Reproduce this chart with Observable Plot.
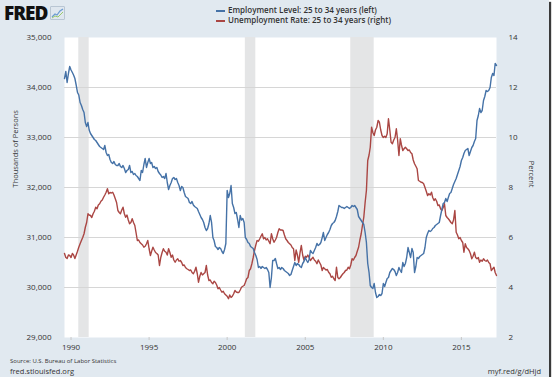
<!DOCTYPE html>
<html><head><meta charset="utf-8">
<script src="https://cdn.jsdelivr.net/npm/d3@7"></script>
<script src="https://cdn.jsdelivr.net/npm/@observablehq/plot@0.6"></script>
<style>
html,body{margin:0;padding:0;background:#fff;}
#wrap{position:relative;width:549px;height:377px;background:#e1e9f0;box-shadow:2px 2px 1px #3a3a3a;overflow:hidden;font-family:"Open Sans",sans-serif;color:#333;}
#chart{position:absolute;left:0;top:0;}
#logo{position:absolute;left:4px;top:0px;font-family:"Open Sans",sans-serif;font-weight:800;font-size:19px;letter-spacing:-1px;color:#111;}
#icon{position:absolute;left:50px;top:6px;width:13px;height:12px;background:#dfe7ef;border:1px solid #b9c6d3;border-radius:1px;}
#legend{position:absolute;left:216px;top:5px;font-size:8px;font-weight:600;color:#333;line-height:10px;}
#legend .sw{display:inline-block;width:9px;height:2px;margin-right:3px;vertical-align:middle;}
#source{position:absolute;left:10px;top:357px;font-size:6px;color:#333;}
#site{position:absolute;left:10px;top:366px;font-size:7.5px;color:#333;}
#short{position:absolute;right:8px;top:366px;font-size:7.5px;color:#333;}
</style></head>
<body>
<div id="wrap">
  <div id="chart"></div>
  <div id="logo">FRED</div>
  <svg id="icon" viewBox="0 0 13 12"><polyline points="1,10 4,7 6,8 9,4 12,2" fill="none" stroke="#6b9bd1" stroke-width="1.2"/><polyline points="1,11 4,9 7,10 12,5" fill="none" stroke="#9ccb6b" stroke-width="1"/></svg>
  <div id="legend">
    <div><span class="sw" style="background:#4572a7"></span>Employment Level: 25 to 34 years (left)</div>
    <div><span class="sw" style="background:#aa4643"></span>Unemployment Rate: 25 to 34 years (right)</div>
  </div>
  <div id="source">Source: U.S. Bureau of Labor Statistics</div>
  <div id="site">fred.stlouisfed.org</div>
  <div id="short">myf.red/g/dHjd</div>
</div>
<script>
// Monthly, starting Aug 1989 (thousands of persons)
const employment = [
  34180,34320,34100,34280,34420,
  34350,34300,34250,34180,34050,33900,33850,33700,33640,33560,33500,33300,
  33220,33300,33150,33080,33040,33000,32960,32940,32900,32860,32820,32800,
  32780,32760,32840,32700,32640,32660,32560,32500,32480,32520,32460,32440,
  32440,32480,32420,32400,32440,32380,32300,32340,32360,32440,32300,32320,
  32260,32280,32240,32220,32180,32140,32340,32300,32460,32580,32400,32500,
  32580,32480,32500,32400,32420,32380,32400,32320,32280,32250,32200,32220,
  32180,32280,32100,31960,32040,32100,32180,32200,32160,32180,32100,32040,
  31940,32020,32000,31900,31820,31800,31780,31700,31680,31720,31650,31620,
  31600,31580,31520,31460,31400,31360,31300,31200,31140,31180,31280,31440,
  31300,31000,30940,30820,30800,30760,30800,30780,30720,30680,30760,30880,
  31940,31800,31880,32040,31680,31600,31480,31500,31360,31200,31440,31350,
  31380,31300,31000,30960,30900,30880,30820,30800,30780,30700,30640,30560,
  30400,30420,30380,30420,30400,30380,30400,30360,30300,30000,30200,30540,
  30540,30580,30480,30380,30400,30360,30400,30380,30340,30320,30300,30280,
  30240,30260,30340,30420,30500,30440,30480,30460,30420,30400,30480,30520,
  30600,30540,30500,30560,30740,30700,30680,30740,30800,30880,30840,30860,
  30900,31000,31100,30940,31000,31060,31100,31160,31240,31280,31300,31340,
  31420,31520,31640,31620,31600,31600,31580,31600,31620,31600,31580,31600,
  31640,31620,31640,31600,31560,31420,31380,31340,31300,31260,31100,30900,
  30480,30300,30040,30000,29980,30080,29900,29800,29820,29860,29840,29880,
  30080,30020,30100,30180,30200,30300,30340,30380,30360,30320,30240,30300,
  30400,30340,30300,30500,30420,30480,30600,30800,30700,30600,30780,30700,
  30300,30420,30600,30580,30620,30640,30660,30680,30800,31000,31080,31140,
  31120,31140,31180,31200,31240,31260,31280,31300,31440,31560,31680,31700,
  31780,31720,31800,31880,31900,31980,32060,32120,32180,32260,32340,32420,
  32540,32600,32680,32740,32760,32780,32640,32720,32800,32840,32920,32980,
  33340,33440,33580,33500,33540,33740,33820,33940,33920,33940,34000,34200,
  34280,34240,34480,34440
];
// Monthly, starting Aug 1989 (percent)
const unemployment = [
  5.36,5.2,5.16,5.3,5.28,
  5.2,5.36,5.3,5.16,5.3,5.45,5.61,5.75,5.88,6.0,6.15,6.41,
  6.6,6.95,6.9,6.88,6.8,6.95,7.05,7.21,7.15,7.3,7.35,7.45,
  7.5,7.61,7.7,7.81,7.95,7.75,7.8,7.78,7.81,7.7,7.55,7.4,
  7.08,7.0,6.95,7.1,7.21,6.95,6.81,6.9,6.7,6.55,6.6,6.75,
  6.6,6.48,6.2,5.88,5.9,5.8,5.75,5.7,5.61,5.65,5.75,5.88,
  5.55,5.28,5.45,5.61,5.5,5.4,5.36,5.3,4.88,5.2,5.4,5.55,
  5.45,5.41,5.3,5.55,5.4,5.21,5.3,5.1,5.01,5.1,5.15,5.05,
  5.08,5.0,4.88,4.9,4.8,4.75,4.72,4.68,4.7,4.6,4.55,4.65,
  4.81,4.55,4.21,4.45,4.6,4.5,4.55,4.6,4.88,4.5,4.28,4.3,
  4.2,4.15,4.25,4.2,4.1,3.95,4.0,3.9,3.81,3.85,3.75,3.7,
  3.65,3.55,3.7,3.6,3.65,3.75,3.88,3.82,3.8,3.8,3.9,4.01,
  4.05,4.08,4.2,4.35,4.4,4.68,4.75,4.95,5.2,5.48,5.7,5.88,
  5.85,5.95,6.05,6.15,5.95,6.0,5.9,5.95,5.85,5.75,6.15,5.95,
  5.81,5.9,6.0,6.2,6.35,6.3,6.3,6.28,6.1,5.95,5.88,5.8,
  5.75,5.7,5.6,5.55,5.08,5.5,5.3,5.01,5.4,5.68,5.3,5.1,
  5.25,5.21,5.3,5.2,5.08,5.15,5.21,5.1,5.05,4.95,5.1,5.0,
  4.9,4.68,4.8,4.75,4.7,4.72,4.61,4.55,4.41,4.45,4.35,4.28,
  4.81,4.4,4.35,4.4,4.48,4.55,4.6,4.68,4.7,4.81,4.75,4.9,
  5.15,5.1,5.2,5.28,5.45,5.61,5.9,6.15,6.5,6.81,7.4,7.88,
  9.08,9.3,9.61,10.41,10.2,10.08,10.3,10.41,10.68,10.61,10.3,10.08,
  10.0,10.05,10.0,10.15,10.75,10.3,9.81,9.75,9.9,10.0,10.35,9.9,
  9.28,9.95,9.7,9.48,9.55,9.61,9.55,9.48,9.5,9.4,9.35,9.1,
  8.95,8.85,8.75,8.28,8.25,8.21,8.2,8.15,8.0,7.85,7.68,7.75,
  7.7,7.81,7.6,7.48,7.55,7.45,7.28,7.3,7.15,7.08,7.2,7.35,
  6.88,6.8,6.75,6.68,6.6,6.55,6.7,7.08,6.21,6.1,5.95,6.0,
  5.88,5.8,5.41,5.75,5.6,5.55,5.48,5.35,5.15,5.25,5.41,5.2,
  5.15,5.2,5.01,5.1,5.05,5.15,5.08,5.05,5.1,5.0,4.95,4.68,
  4.75,4.81,4.6,4.48
];
const recessionStarts = ["1990-07-01","2001-03-01","2007-12-01"];
const recessionEnds   = ["1991-03-01","2001-11-01","2009-06-01"];
const leftTicks = [29000,30000,31000,32000,33000,34000,35000];
const rightTicks = [2,4,6,8,10,12,14];
const xTickYears = [1990,1995,2000,2005,2010,2015];

const start = new Date(Date.UTC(1989,7,1));
const dates = employment.map((_, i) => d3.utcMonth.offset(start, i));
const empData = employment.map((v, i) => ({date: dates[i], value: v}));
const unempData = unemployment.map((v, i) => ({date: dates[i], value: v}));
const recessions = recessionStarts.map((s, i) => ({start: new Date(s), end: new Date(recessionEnds[i])}));
// right axis (percent) is mapped onto the left axis range: 2 -> 29000, 14 -> 35000
const toLeft = p => 29000 + (p - 2) * 500;
const fromLeft = v => (v - 29000) / 500 + 2;

const chart = Plot.plot({
  width: 549, height: 377,
  marginLeft: 64, marginRight: 53, marginTop: 37, marginBottom: 40,
  style: {background: "transparent", fontFamily: "'Open Sans', sans-serif", fontSize: "8px", color: "#333", overflow: "visible"},
  x: {type: "utc", domain: [dates[0], dates[dates.length - 1]]},
  y: {domain: [29000, 35000]},
  marks: [
    Plot.frame({fill: "white", stroke: "none"}),
    Plot.rect(recessions, {x1: "start", x2: "end", fill: "#e4e5e6"}),
    Plot.ruleY(leftTicks.slice(1, -1), {stroke: "#d6d6d6", strokeWidth: 1}),
    Plot.lineY(unempData, {x: "date", y: d => toLeft(d.value), stroke: "#aa4643", strokeWidth: 1.4}),
    Plot.lineY(empData, {x: "date", y: "value", stroke: "#4572a7", strokeWidth: 1.4}),
    Plot.axisY(leftTicks, {anchor: "left", tickSize: 0, tickPadding: 13, tickFormat: d3.format(","), label: null}),
    Plot.axisY(rightTicks.map(toLeft), {anchor: "right", tickSize: 0, tickPadding: 12, tickFormat: d => String(fromLeft(d)), label: null}),
    Plot.axisX(xTickYears.map(y => new Date(Date.UTC(y, 0, 1))), {tickSize: 3, stroke: "#c8c8c8", tickPadding: 4, tickFormat: d3.utcFormat("%Y"), label: null}),
    Plot.text(["Thousands of Persons"], {frameAnchor: "left", dx: -49, rotate: -90, fill: "#333", fontSize: 7.5}),
    Plot.text(["Percent"], {frameAnchor: "right", dx: 35, rotate: 90, fill: "#333", fontSize: 7.5})
  ]
});
document.getElementById("chart").appendChild(chart);
</script>
</body></html>
